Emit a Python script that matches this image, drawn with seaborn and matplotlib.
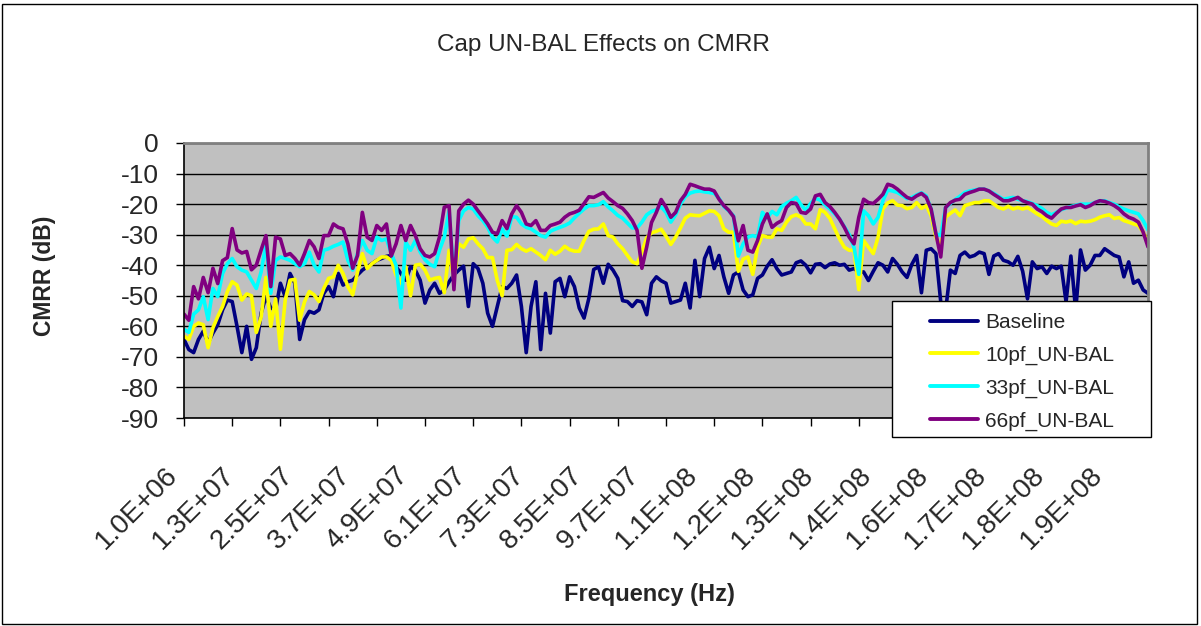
import numpy as np
import pandas as pd
import seaborn as sns
import matplotlib.pyplot as plt
import matplotlib.transforms as mtransforms
from matplotlib.patches import Rectangle
from matplotlib.ticker import FixedLocator

# category axis: 201 frequency points from 1.0E+06 to 2.0E+08 Hz
points = np.arange(201)
label_points = [0, 12, 24, 36, 48, 60, 72, 84, 96, 108, 120, 132, 144, 156, 168, 180, 192]
freq_labels = ["1.0E+06", "1.3E+07", "2.5E+07", "3.7E+07", "4.9E+07", "6.1E+07",
               "7.3E+07", "8.5E+07", "9.7E+07", "1.1E+08", "1.2E+08", "1.3E+08",
               "1.4E+08", "1.6E+08", "1.7E+08", "1.8E+08", "1.9E+08"]

baseline = [
    -64.3, -67.6, -68.6, -64.3, -61.6, -65.4, -62.2, -59.5, -54.6, -51.4,
    -51.9, -60.0, -68.6, -60.0, -70.8, -67.0, -55.7, -50.3, -54.0, -54.6,
    -45.9, -50.3, -42.7, -45.9, -64.3, -57.8, -55.1, -55.7, -54.6, -49.2,
    -47.0, -50.3, -42.7, -46.5, -45.4, -44.9, -43.2, -41.6, -40.5, -39.5,
    -38.4, -37.8, -37.1, -36.8, -40.5, -42.7, -44.9, -40.5, -41.6, -44.9,
    -52.4, -48.1, -45.9, -49.2, -48.1, -45.4, -43.2, -41.6, -40.3, -53.5,
    -39.5, -41.1, -45.9, -55.7, -60.0, -53.5, -47.0, -47.6, -45.9, -43.2,
    -53.5, -68.6, -53.5, -45.4, -67.6, -49.2, -62.2, -45.4, -44.3, -50.3,
    -43.8, -47.0, -54.0, -57.3, -50.8, -41.4, -40.5, -45.9, -39.7, -41.6,
    -44.3, -51.6, -51.9, -53.5, -51.6, -52.0, -56.2, -45.9, -43.8, -45.1,
    -45.9, -52.4, -51.9, -51.4, -45.9, -54.0, -38.4, -50.3, -37.8, -34.1,
    -41.1, -36.8, -43.8, -49.2, -43.2, -42.2, -48.1, -50.3, -49.7, -44.3,
    -43.2, -40.3, -38.2, -41.1, -43.2, -42.7, -42.2, -39.2, -38.6, -40.0,
    -42.5, -39.7, -39.5, -40.8, -39.6, -39.2, -40.0, -39.7, -41.6, -41.1,
    -42.2, -42.2, -45.0, -42.0, -39.2, -40.0, -42.2, -37.8, -39.7, -42.2,
    -44.0, -39.7, -36.8, -49.0, -35.1, -34.6, -36.2, -52.0, -55.0, -41.6,
    -42.7, -36.8, -35.7, -37.3, -36.8, -35.7, -36.2, -43.0, -37.0, -36.2,
    -38.4, -38.9, -40.0, -37.1, -42.0, -51.0, -38.9, -41.1, -40.5, -42.7,
    -40.3, -41.1, -40.3, -52.0, -37.0, -55.0, -35.0, -41.6, -40.0, -36.8,
    -36.8, -34.6, -35.7, -36.8, -37.3, -43.8, -38.9, -45.9, -44.9, -48.1,
    -49.2]

unbal_10pf = [
    -63.2, -64.3, -60.0, -58.9, -59.5, -67.0, -60.5, -56.8, -53.5, -48.6,
    -45.4, -46.5, -51.4, -49.4, -50.0, -62.0, -57.0, -44.0, -60.0, -51.0,
    -67.5, -51.4, -44.9, -44.6, -58.0, -52.0, -48.6, -49.7, -51.9, -47.6,
    -44.3, -43.8, -40.0, -42.7, -47.0, -49.7, -42.2, -36.2, -41.1, -39.5,
    -38.4, -37.3, -37.3, -38.4, -43.2, -45.9, -40.5, -50.0, -40.0, -39.7,
    -41.6, -44.9, -44.3, -44.0, -49.0, -35.1, -44.9, -33.0, -34.1, -31.4,
    -31.0, -33.0, -34.6, -37.5, -37.5, -45.0, -50.0, -35.1, -34.9, -33.2,
    -34.6, -35.4, -34.6, -35.7, -36.8, -38.2, -35.1, -36.4, -35.4, -33.8,
    -34.9, -35.4, -35.4, -31.9, -28.9, -28.2, -28.1, -26.5, -30.3, -30.8,
    -33.0, -34.6, -36.8, -38.9, -39.5, -35.7, -31.0, -29.4, -28.9, -28.2,
    -30.5, -33.2, -30.8, -27.8, -24.6, -23.5, -23.7, -23.8, -23.0, -22.2,
    -22.4, -23.8, -28.1, -29.2, -29.2, -42.0, -38.0, -37.3, -43.0, -34.0,
    -30.3, -30.8, -30.8, -28.1, -28.6, -25.9, -24.1, -23.5, -24.3, -26.5,
    -26.5, -28.1, -21.8, -22.7, -24.7, -28.1, -31.4, -34.1, -35.1, -35.1,
    -48.0, -31.9, -34.1, -36.2, -30.8, -21.6, -19.6, -18.9, -20.3, -20.5,
    -21.5, -21.1, -19.5, -21.4, -20.5, -23.8, -30.8, -34.1, -24.3, -23.0,
    -21.9, -23.8, -20.5, -20.0, -19.5, -19.5, -18.9, -18.9, -20.0, -21.1,
    -21.6, -20.7, -21.6, -21.1, -21.6, -21.1, -22.1, -23.2, -24.1, -25.4,
    -26.5, -27.0, -25.6, -25.9, -25.5, -26.4, -25.6, -25.8, -25.6, -25.1,
    -24.3, -23.8, -23.5, -24.7, -24.4, -25.4, -25.9, -26.5, -27.0, -29.2,
    -32.4]

unbal_33pf = [
    -61.0, -62.0, -56.0, -54.6, -50.3, -57.8, -47.6, -50.3, -42.7, -39.5,
    -37.8, -40.5, -41.6, -42.2, -44.9, -47.6, -42.2, -33.0, -49.2, -38.4,
    -37.3, -37.8, -38.4, -39.5, -40.5, -39.5, -35.7, -40.0, -42.2, -35.1,
    -34.6, -33.8, -33.2, -32.4, -38.4, -41.6, -36.2, -31.9, -35.1, -36.2,
    -30.8, -31.9, -31.4, -36.2, -40.0, -54.0, -32.4, -35.1, -31.9, -35.7,
    -38.2, -39.7, -40.5, -35.1, -30.8, -22.2, -45.0, -25.4, -22.2, -21.1,
    -21.6, -23.8, -25.4, -27.6, -30.8, -32.4, -28.1, -30.5, -24.1, -24.3,
    -26.5, -27.6, -28.1, -29.2, -30.3, -30.8, -28.9, -28.2, -27.6, -27.0,
    -26.2, -24.5, -23.0, -21.6, -20.5, -20.5, -20.2, -19.2, -20.9, -22.2,
    -23.7, -24.6, -26.2, -27.8, -27.8, -25.9, -23.5, -22.4, -21.9, -20.9,
    -22.7, -25.9, -23.5, -20.0, -17.6, -16.4, -15.9, -15.7, -16.0, -16.2,
    -16.5, -18.1, -20.8, -22.2, -23.8, -37.0, -33.0, -30.8, -30.3, -30.8,
    -22.7, -24.5, -22.4, -23.5, -20.8, -19.7, -18.9, -17.8, -20.2, -22.0,
    -19.8, -18.1, -18.7, -20.3, -21.6, -23.2, -24.9, -27.4, -29.9, -34.1,
    -43.0, -22.2, -23.8, -26.5, -24.3, -18.9, -15.4, -15.7, -16.2, -17.1,
    -18.2, -17.8, -17.0, -16.3, -17.3, -21.6, -29.7, -30.3, -21.1, -19.8,
    -18.5, -17.4, -16.2, -15.7, -15.4, -15.1, -15.1, -15.7, -16.5, -17.5,
    -18.4, -18.1, -17.8, -18.4, -18.9, -19.2, -19.8, -20.5, -21.4, -22.7,
    -23.5, -22.7, -21.8, -21.3, -20.8, -20.4, -20.0, -20.0, -20.0, -19.5,
    -18.9, -18.9, -19.5, -20.0, -20.9, -21.6, -22.2, -22.7, -23.2, -25.4,
    -28.4]

unbal_66pf = [
    -56.0, -58.0, -47.0, -51.0, -44.0, -49.0, -41.0, -46.0, -38.5, -37.5,
    -28.0, -35.0, -36.0, -35.5, -41.5, -40.0, -35.0, -30.3, -47.0, -30.8,
    -31.4, -36.8, -36.2, -37.8, -40.0, -36.2, -31.9, -34.0, -37.8, -30.3,
    -30.3, -26.5, -27.6, -28.1, -33.0, -41.0, -36.8, -22.7, -30.8, -31.9,
    -27.0, -28.6, -26.5, -37.0, -33.0, -27.0, -31.9, -27.0, -30.3, -34.6,
    -36.8, -37.3, -36.2, -30.8, -21.0, -20.5, -48.0, -22.2, -20.0, -18.7,
    -20.0, -22.2, -24.3, -26.5, -29.2, -29.7, -25.4, -28.0, -23.2, -20.5,
    -22.7, -26.5, -27.0, -25.4, -28.6, -28.6, -27.0, -26.5, -25.9, -24.3,
    -23.2, -22.7, -22.0, -19.8, -17.6, -17.8, -17.0, -16.2, -18.0, -19.2,
    -20.5, -21.4, -23.2, -25.4, -28.6, -41.0, -34.0, -26.0, -22.7, -18.5,
    -21.0, -24.3, -22.7, -18.9, -16.8, -13.5, -14.0, -14.6, -15.1, -15.1,
    -15.7, -18.4, -20.5, -22.0, -24.1, -32.0, -27.0, -35.1, -35.7, -31.9,
    -26.5, -23.2, -27.6, -26.3, -25.4, -21.1, -19.5, -19.8, -22.7, -23.0,
    -21.6, -17.3, -16.8, -19.5, -20.8, -22.7, -24.9, -27.6, -30.8, -33.0,
    -24.3, -18.4, -19.5, -19.8, -18.4, -16.8, -13.5, -14.0, -15.1, -16.5,
    -17.8, -18.4, -17.3, -16.5, -17.8, -21.6, -29.7, -37.3, -21.1, -19.5,
    -18.7, -18.4, -16.8, -16.2, -15.7, -15.1, -15.1, -15.7, -16.8, -17.8,
    -18.9, -18.9, -18.4, -17.8, -18.9, -19.5, -20.0, -21.6, -22.5, -23.8,
    -24.6, -23.0, -21.6, -21.1, -21.1, -20.6, -20.2, -21.1, -20.5, -19.5,
    -18.9, -19.1, -19.7, -20.5, -21.6, -23.2, -24.3, -24.9, -25.9, -29.2,
    -34.0]

series_names = ["Baseline", "10pf_UN-BAL", "33pf_UN-BAL", "66pf_UN-BAL"]
series_colors = ["#000080", "#FFFF00", "#00FFFF", "#800080"]

df = pd.DataFrame({
    "point": np.tile(points, 4),
    "cmrr": baseline + unbal_10pf + unbal_33pf + unbal_66pf,
    "trace": np.repeat(series_names, len(points)),
})

sns.set_style("white")
plt.rcParams['font.family'] = ['Liberation Sans', 'DejaVu Sans']
plt.rcParams['axes.unicode_minus'] = False

W, H = 1201, 626
fig = plt.figure(figsize=(W / 100, H / 100), dpi=100)
ax = fig.add_axes([184 / W, 1 - 418 / H, 964 / W, 275 / H])

sns.lineplot(data=df, x="point", y="cmrr", hue="trace", hue_order=series_names,
             palette=dict(zip(series_names, series_colors)), linewidth=2.6,
             ax=ax, legend=True)
handles, labels = ax.get_legend_handles_labels()
ax.get_legend().remove()

ax.set_facecolor("#C0C0C0")
ax.set_xlim(0, 200)
ax.set_ylim(-90, 0)
ax.set_axisbelow(True)
ax.set_xlabel("")
ax.set_ylabel("")

ax.set_yticks(range(-90, 1, 10))
ax.yaxis.grid(True, color="black", linewidth=1.0)
ax.xaxis.grid(False)
ax.tick_params(axis="y", direction="out", length=6, width=1, pad=12,
               labelsize=19, left=True, color="black")

# tick marks every 10 points, labels every 12 points
ax.xaxis.remove_overlapping_locs = False
ax.set_xticks(range(0, 201, 10))
ax.set_xticklabels([])
ax.xaxis.set_minor_locator(FixedLocator(label_points))
ax.set_xticklabels(freq_labels, minor=True)
ax.tick_params(axis="x", which="major", direction="out", length=6, width=1,
               bottom=True, color="black")
ax.tick_params(axis="x", which="minor", length=0, pad=0, labelsize=20)
shift = mtransforms.ScaledTranslation(-20 / 100, -44 / 100, fig.dpi_scale_trans)
for lab in ax.get_xticklabels(minor=True):
    lab.set_rotation(45)
    lab.set_ha("right")
    lab.set_va("top")
    lab.set_rotation_mode("anchor")
    lab.set_transform(lab.get_transform() + shift)

for side in ["left", "bottom"]:
    ax.spines[side].set_color("black")
    ax.spines[side].set_linewidth(1.2)
for side in ["top", "right"]:
    ax.spines[side].set_color("#808080")
    ax.spines[side].set_linewidth(2)

fig.text(603 / W, 1 - 45 / H, "Cap UN-BAL Effects on CMRR", fontsize=17.5,
         ha="center", va="center")
fig.text(45 / W, 1 - 276 / H, "CMRR (dB)", fontsize=16.5, fontweight="bold",
         rotation=90, ha="center", va="center")
fig.text(649 / W, 1 - 594 / H, "Frequency (Hz)", fontsize=17, fontweight="bold",
         ha="center", va="center")

# legend box sits over the plot area
fig.patches.append(Rectangle((892 / W, 1 - 437 / H), 259 / W, 136 / H,
                             transform=fig.transFigure, facecolor="white",
                             edgecolor="black", linewidth=1, zorder=5))
leg = fig.legend(handles, labels, loc="upper left",
                 bbox_to_anchor=(930 / W, 1 - 313 / H), frameon=False,
                 fontsize=15, handlelength=2.3, handletextpad=0.35,
                 labelspacing=0.66, borderpad=0, borderaxespad=0)
leg.set_zorder(6)
for ln in leg.get_lines():
    ln.set_linewidth(2.8)

fig.patches.append(Rectangle((2 / W, 2 / H), 1195 / W, 620 / H,
                             transform=fig.transFigure, fill=False,
                             edgecolor="black", linewidth=1, zorder=0))

fig.savefig("out.png", dpi=100)
